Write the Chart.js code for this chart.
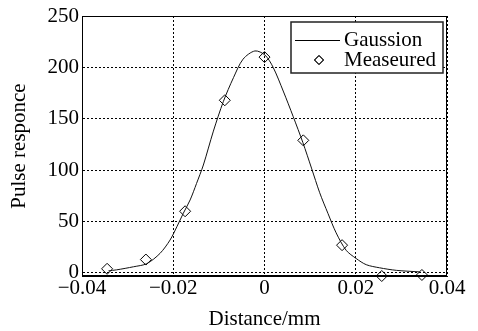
<!DOCTYPE html>
<html>
<head>
<meta charset="utf-8">
<script src="https://cdn.jsdelivr.net/npm/chart.js@4/dist/chart.umd.min.js"></script>
<style>
  html, body { margin: 0; padding: 0; background: #fff; }
  #wrap { width: 478px; height: 331px; }
</style>
</head>
<body>
<div id="wrap"><canvas id="chart" width="478" height="331"></canvas></div>
<script>
const seriesNames = ["Gaussion", "Measeured"];

// fitted curve
const curveX = [-0.0342, -0.0324, -0.0287, -0.0258, -0.0229, -0.0207, -0.0192, -0.0178, -0.0163, -0.0149,
  -0.0134, -0.0112, -0.0090, -0.0068, -0.0047, -0.0021, 0.0001, 0.0019, 0.0041, 0.0063,
  0.0084, 0.0103, 0.0121, 0.0139, 0.0157, 0.0179, 0.0201, 0.0223, 0.0252, 0.0289, 0.0340];
const curveY = [2, 3, 6, 9, 19, 32, 45, 58, 71, 87,
  105, 138, 167, 190, 208, 216, 212, 200, 177, 152,
  127, 102, 78, 58, 39, 22, 14, 8, 5, 2.5, 1];

// measured points
const measX = [-0.0345, -0.0260, -0.0174, -0.0087, 0, 0.0085, 0.0170, 0.0257, 0.0345];
const measY = [4, 13, 60, 168, 210, 129, 27, -3, -2];

const xTicks = [-0.04, -0.02, 0, 0.02, 0.04];
const yTicks = [0, 50, 100, 150, 200, 250];

const fmt = (v) => v === 0 ? "0" : (v < 0 ? "\u2212" : "") + Math.abs(v).toFixed(v % 1 === 0 ? 0 : 2);

Chart.defaults.font.family = "'Liberation Serif', 'Times New Roman', serif";
Chart.defaults.font.size = 21;
Chart.defaults.color = "#000";

// box around the plot area
const framePlugin = {
  id: "frame",
  afterDatasetsDraw(chart) {
    const { ctx, chartArea: a } = chart;
    ctx.save();
    ctx.strokeStyle = "#000";
    ctx.lineWidth = 1;
    ctx.strokeRect(a.left + 0.5, a.top + 0.5, a.right - a.left - 1, a.bottom - a.top - 1);
    ctx.restore();
  }
};

// legend box in the upper right corner
const legendPlugin = {
  id: "boxLegend",
  afterDraw(chart) {
    const { ctx, chartArea: a } = chart;
    const w = 152, h = 51;
    const bx = a.right - w - 4, by = a.top + 6;
    ctx.save();
    ctx.fillStyle = "#fff";
    ctx.fillRect(bx, by, w, h);
    ctx.strokeStyle = "#222";
    ctx.lineWidth = 1.5;
    ctx.strokeRect(bx, by, w, h);

    const row1 = by + 18, row2 = by + 38;
    ctx.strokeStyle = "#000";
    ctx.lineWidth = 1;
    ctx.beginPath();
    ctx.moveTo(bx + 4, row1 + 0.5);
    ctx.lineTo(bx + 49, row1 + 0.5);
    ctx.stroke();

    Chart.helpers.drawPoint(ctx, { pointStyle: "rectRot", radius: 4.5, borderWidth: 1 }, bx + 28, row2);
    ctx.strokeStyle = "#000";
    ctx.stroke();

    ctx.fillStyle = "#000";
    ctx.font = "21px 'Liberation Serif', serif";
    ctx.textBaseline = "middle";
    ctx.textAlign = "left";
    const names = chart.data.datasets.map(d => d.label);
    ctx.fillText(names[0], bx + 53, row1);
    ctx.fillText(names[1], bx + 53, row2);
    ctx.restore();
  }
};

new Chart(document.getElementById("chart"), {
  type: "scatter",
  data: {
    datasets: [
      {
        label: seriesNames[0],
        data: curveX.map((x, i) => ({ x, y: curveY[i] })),
        showLine: true,
        borderColor: "#111",
        borderWidth: 1,
        pointRadius: 0,
        tension: 0.3,
        clip: false
      },
      {
        label: seriesNames[1],
        data: measX.map((x, i) => ({ x, y: measY[i] })),
        showLine: false,
        pointStyle: "rectRot",
        pointRadius: 5.5,
        pointBorderWidth: 1,
        pointBorderColor: "#000",
        pointBackgroundColor: "rgba(255,255,255,0)",
        clip: false
      }
    ]
  },
  options: {
    responsive: false,
    animation: false,
    layout: { padding: { left: 0, right: 31, top: 16, bottom: 0 } },
    plugins: { legend: { display: false }, tooltip: { enabled: false } },
    scales: {
      x: {
        type: "linear",
        min: -0.04,
        max: 0.04,
        afterBuildTicks: (s) => { s.ticks = xTicks.map(v => ({ value: v })); },
        afterFit: (s) => { s.height = 55; },
        ticks: { padding: 0, maxRotation: 0, callback: (v) => fmt(v) },
        grid: { color: "#000", lineWidth: 1, drawTicks: false, tickLength: 0 },
        border: { display: true, color: "#000", width: 1, dash: [2, 2] },
        title: { display: true, text: "Distance/mm", padding: { top: 0, bottom: -1 } }
      },
      y: {
        min: -3,
        max: 250,
        afterBuildTicks: (s) => { s.ticks = yTicks.map(v => ({ value: v })); },
        afterFit: (s) => { s.width = 82; },
        ticks: { padding: 3, callback: (v) => fmt(v) },
        grid: { color: "#000", lineWidth: 1, drawTicks: false, tickLength: 0 },
        border: { display: true, color: "#000", width: 1, dash: [2, 2] },
        title: { display: true, text: "Pulse responce", padding: { top: 7, bottom: 0 } }
      }
    }
  },
  plugins: [framePlugin, legendPlugin]
});
</script>
</body>
</html>
